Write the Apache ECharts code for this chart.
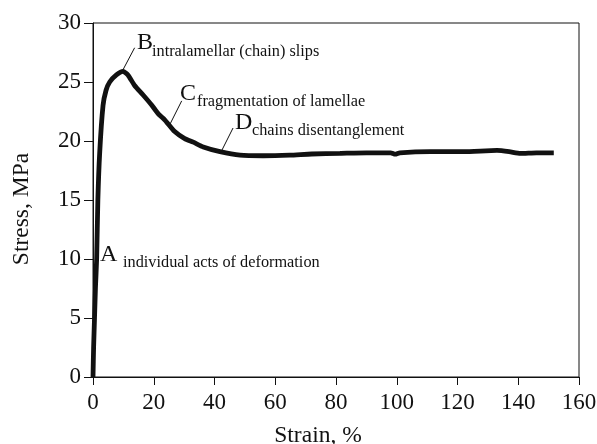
<!DOCTYPE html>
<html>
<head>
<meta charset="utf-8">
<script src="https://cdn.jsdelivr.net/npm/echarts@6/dist/echarts.min.js"></script>
<style>html,body{margin:0;padding:0;background:#fff}#c{width:597px;height:444px}</style>
</head>
<body>
<div id="c"></div>
<script>
// ---- data ----
var strain = [0, 0.2, 0.5, 0.8, 1.2, 1.6, 2.2, 3.3, 4.3, 5.5, 7.7, 9.9, 11.5, 13.7, 16.5, 19.3, 21.5, 23.6, 26.9, 30.2, 33, 36.3, 41.8, 48.4, 56, 64.8, 72, 81.3, 90, 95.5, 98, 99.5, 101, 111, 122, 133, 137, 140.7, 146, 151.7];
var stress = [0, 2.5, 5, 7.5, 10, 15, 19, 23, 24.3, 25, 25.6, 25.9, 25.6, 24.7, 23.9, 23.05, 22.3, 21.8, 20.8, 20.2, 19.9, 19.5, 19.1, 18.8, 18.75, 18.8, 18.9, 18.95, 19.0, 19.0, 19.0, 18.88, 19.0, 19.1, 19.1, 19.2, 19.1, 18.95, 19.0, 19.0];
var xTicks = [0, 20, 40, 60, 80, 100, 120, 140, 160];
var yTicks = [0, 5, 10, 15, 20, 25, 30];
var annLetters = ['A', 'B', 'C', 'D'];
var annTexts = ['individual acts of deformation', 'intralamellar (chain) slips', 'fragmentation of lamellae', 'chains disentanglement'];
// leader lines in data coordinates [from, to]
var leaders = [
  [[9.8, 26.0], [13.7, 27.9]],
  [[25.3, 21.4], [29.2, 23.4]],
  [[42.4, 19.2], [46.1, 21.1]]
];

var FONT = 'Liberation Serif';
var pts = strain.map(function (s, i) { return [s, stress[i]]; });
var chart = echarts.init(document.getElementById('c'));

// annotation pixel placements (letter x, letter baseline y, subscript x, subscript baseline y)
var annPos = [
  [100, 260, 123, 267],
  [137, 48, 152, 56],
  [180, 99, 197, 106],
  [235, 128, 252, 135]
];
var graphics = [];
annLetters.forEach(function (L, i) {
  var p = annPos[i];
  graphics.push({ type: 'text', left: p[0], top: p[1] - 17, style: { text: L, font: '24px "' + FONT + '"', fill: '#111' } });
  graphics.push({ type: 'text', left: p[2], top: p[3] - 12, style: { text: annTexts[i], font: '16.3px "' + FONT + '"', fill: '#111' } });
});

chart.setOption({
  animation: false,
  backgroundColor: '#fff',
  grid: { left: 93, top: 23, right: 18, bottom: 67, outerBoundsMode: 'none', containLabel: false, show: true, borderColor: '#111', borderWidth: 1 },
  xAxis: {
    type: 'value', min: 0, max: 160, interval: 20,
    name: 'Strain, %', nameLocation: 'middle', nameGap: 47,
    nameTextStyle: { fontFamily: FONT, fontSize: 23.5, color: '#111', padding: [0, 36, 0, 0] },
    axisLine: { show: true, lineStyle: { color: '#111', width: 1 } },
    axisTick: { show: true, length: 8, inside: false, lineStyle: { color: '#111' } },
    axisLabel: { fontFamily: FONT, fontSize: 23, color: '#111', margin: 14,
      formatter: function (v) { return xTicks.indexOf(v) >= 0 ? String(v) : ''; } },
    splitLine: { show: false }
  },
  yAxis: {
    type: 'value', min: 0, max: 30, interval: 5,
    name: 'Stress, MPa', nameLocation: 'middle', nameGap: 59,
    nameTextStyle: { fontFamily: FONT, fontSize: 23.5, color: '#111', padding: [0, 18, 0, 0] },
    axisLine: { show: true, lineStyle: { color: '#111', width: 1 } },
    axisTick: { show: true, length: 9, inside: false, lineStyle: { color: '#111' } },
    axisLabel: { fontFamily: FONT, fontSize: 23, color: '#111', margin: 12,
      formatter: function (v) { return yTicks.indexOf(v) >= 0 ? String(v) : ''; } },
    splitLine: { show: false }
  },
  series: [{
    type: 'line', data: pts, showSymbol: false, smooth: 0.2,
    lineStyle: { color: '#111', width: 4.8 },
    markLine: {
      silent: true, symbol: 'none', animation: false,
      lineStyle: { color: '#111', width: 1, type: 'solid' },
      label: { show: false },
      data: leaders.map(function (l) { return [{ coord: l[0] }, { coord: l[1] }]; })
    }
  }],
  graphic: graphics
});
</script>
</body>
</html>
